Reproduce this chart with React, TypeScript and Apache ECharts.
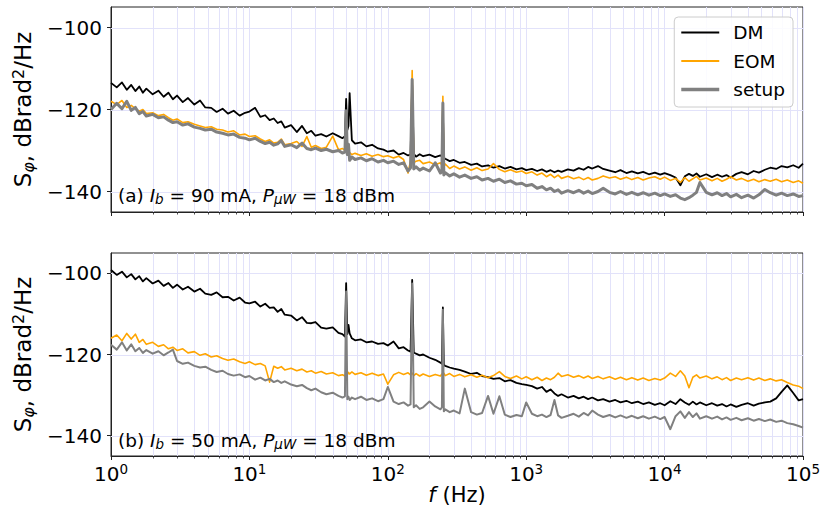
import React, { useEffect, useRef } from "react";
import * as echarts from "echarts";

// Frequencies (Hz) shared by all traces
const FREQ = [
  1, 1.1, 1.2, 1.3, 1.4, 1.5, 1.6, 1.7, 1.8, 2, 2.2, 2.4, 2.6, 2.8, 3, 3.3, 3.6, 4, 4.4, 4.8, 5.3, 5.8, 6.4, 7, 7.7, 8.5, 9.3,
  10, 11, 12, 13, 14, 15, 16, 17, 18, 20, 22, 24, 26, 28, 30, 33, 36, 40, 44, 47, 49, 50, 51, 52, 53, 55, 58, 64, 70, 77, 85, 93,
  100, 110, 120, 130, 140, 146, 150, 154, 160, 170, 180, 200, 220, 240, 246, 250, 254, 260, 280, 300, 330, 360, 400, 440, 480, 530, 580, 640, 700, 770, 850, 930,
  1000, 1100, 1200, 1300, 1400, 1500, 1600, 1700, 1800, 2000, 2200, 2400, 2600, 2800, 3000, 3300, 3600, 4000, 4400, 4800, 5300, 5800, 6400, 7000, 7700, 8500, 9300,
  10000, 11000, 12000, 13000, 14000, 15000, 16000, 17000, 18000, 20000, 22000, 24000, 26000, 28000, 30000, 33000, 36000, 40000, 44000, 48000, 53000, 58000, 64000, 70000, 77000, 85000, 93000,
  100000,
];

// Panel (a): Ib = 90 mA
const TOP_DM = [
  -113.5, -114.6, -113.4, -115.2, -114.0, -115.5, -114.4, -115.9, -114.9, -116.3, -115.4, -116.9, -115.9, -117.5, -116.6, -118.2, -117.2, -118.8, -117.8, -119.5, -119.6, -120.6, -119.8, -121.0, -120.3, -121.5, -120.8,
  -120.5, -119.6, -121.8, -121.4, -122.6, -122.2, -123.3, -122.9, -124.4, -123.8, -125.5, -124.0, -125.8, -125.2, -126.4, -126.0, -126.6, -125.8, -126.5, -127.0, -126.5, -117.4, -125.0, -124.0, -116.0, -127.5, -128.3, -128.0, -129.0, -128.6, -129.5, -129.8,
  -130.3, -130.0, -131.0, -130.6, -131.2, -131.0, -114.0, -130.8, -131.5, -130.9, -131.4, -131.0, -131.6, -131.2, -131.5, -120.0, -131.8, -132.0, -132.6, -132.3, -133.0, -132.8, -133.5, -133.2, -133.9, -133.6, -134.2, -133.8, -134.4, -134.0, -134.6, -134.3,
  -134.8, -134.5, -135.0, -134.6, -135.2, -134.8, -135.3, -134.9, -135.2, -134.6, -134.9, -134.3, -134.7, -134.0, -134.4, -133.8, -134.5, -134.9, -135.3, -134.8, -135.5, -135.1, -135.6, -135.2, -135.8, -135.4, -135.9,
  -135.5, -136.0, -136.6, -138.5, -136.3, -135.7, -136.2, -135.6, -136.4, -135.8, -136.5, -135.9, -136.4, -136.0, -136.6, -135.7, -135.3, -135.8, -135.0, -135.4, -134.7, -134.2, -134.5, -133.8, -134.1, -133.6, -134.2,
  -133.2,
];
const TOP_EOM = [
  -118.0, -118.8, -117.8, -119.5, -119.0, -119.8, -120.4, -120.0, -121.0, -120.8, -121.5, -121.2, -122.0, -122.6, -122.3, -123.2, -123.0, -123.6, -124.0, -124.4, -124.2, -124.8, -125.0, -125.5, -125.2, -126.2, -126.0,
  -126.6, -126.4, -127.2, -127.8, -127.4, -128.2, -128.0, -127.2, -128.6, -128.3, -127.8, -129.0, -126.6, -129.2, -128.8, -129.5, -129.2, -126.5, -129.8, -129.5, -130.0, -126.5, -130.4, -130.8, -130.5, -131.0, -130.7, -131.2, -130.8, -131.4, -131.0, -131.5,
  -131.3, -131.8, -131.4, -132.2, -135.5, -132.5, -110.5, -133.0, -132.6, -132.4, -133.2, -132.8, -133.5, -133.0, -133.6, -116.8, -134.0, -133.3, -134.4, -133.8, -134.5, -134.0, -134.8, -134.2, -134.9, -134.5, -133.2, -134.6, -135.2, -134.7, -135.3, -135.0,
  -135.6, -135.2, -136.0, -135.5, -136.4, -135.8, -136.6, -136.0, -136.8, -136.3, -136.9, -136.5, -137.1, -136.6, -137.2, -136.8, -136.2, -136.7, -136.4, -137.0, -136.5, -137.1, -136.6, -137.2, -136.7, -136.4, -137.0,
  -136.5, -137.3, -136.8, -137.8, -136.6, -137.5, -136.9, -136.3, -137.2, -136.7, -137.4, -136.8, -137.5, -137.0, -136.4, -137.2, -136.8, -137.5, -137.0, -137.6, -137.1, -137.5, -137.0, -137.6, -137.2, -137.8, -137.4,
  -138.0,
];
const TOP_SETUP = [
  -120.0, -118.5, -119.8, -118.0, -120.2, -119.5, -121.0, -120.5, -121.6, -121.2, -122.0, -121.8, -122.6, -123.2, -123.0, -123.8, -123.5, -124.3, -124.6, -125.0, -124.8, -125.5, -125.8, -126.2, -126.0, -126.8, -127.0,
  -127.4, -127.0, -127.8, -128.3, -128.0, -128.7, -128.4, -127.6, -129.0, -128.6, -129.3, -128.2, -129.5, -129.8, -129.4, -130.0, -129.7, -130.3, -130.0, -130.6, -130.4, -120.3, -131.0, -128.5, -132.4, -131.6, -132.2, -131.8, -132.5, -132.0, -132.8, -132.4,
  -133.0, -132.6, -133.4, -133.0, -135.0, -134.2, -112.7, -134.5, -134.0, -134.8, -134.3, -135.0, -133.0, -135.5, -135.2, -118.4, -136.0, -135.4, -136.2, -135.7, -136.5, -136.0, -136.8, -136.4, -137.2, -136.8, -137.5, -137.0, -137.8, -137.4, -138.2, -138.0,
  -138.6, -138.3, -139.2, -138.8, -139.6, -139.2, -140.0, -139.6, -140.4, -139.8, -140.3, -139.7, -140.4, -139.9, -140.5, -140.0, -139.2, -140.2, -140.6, -140.0, -140.7, -140.2, -140.8, -140.3, -140.9, -140.4, -141.0,
  -140.6, -141.2, -140.8, -141.6, -142.0, -141.5, -140.9, -140.2, -137.8, -140.2, -140.8, -140.3, -141.0, -140.5, -141.3, -140.7, -141.5, -140.9, -141.6, -140.8, -139.5, -140.3, -140.9, -140.4, -141.0, -140.6, -141.2,
  -141.0,
];

// Panel (b): Ib = 50 mA
const BOTTOM_DM = [
  -99.2, -100.4, -99.6, -101.0, -100.2, -101.5, -100.7, -102.0, -101.2, -102.5, -101.8, -103.1, -102.4, -103.6, -102.8, -104.0, -103.3, -104.5, -103.8, -105.0, -105.3, -104.7, -105.9, -105.8, -106.7, -106.0, -107.2,
  -107.4, -107.0, -108.2, -107.5, -108.5, -108.4, -109.5, -108.8, -110.2, -110.4, -111.6, -110.8, -112.2, -112.3, -112.0, -113.4, -113.6, -113.3, -114.7, -115.0, -115.6, -102.4, -115.0, -112.7, -114.8, -116.0, -116.5, -116.3, -117.0, -116.8, -117.4, -117.2,
  -117.8, -116.8, -118.5, -118.2, -119.0, -119.3, -101.6, -119.5, -119.8, -120.2, -120.0, -120.8, -121.3, -122.0, -122.3, -108.4, -122.6, -122.8, -123.2, -123.5, -123.8, -124.2, -124.8, -124.5, -125.3, -125.6, -126.0, -125.8, -126.6, -126.3, -127.0, -127.3,
  -127.5, -127.8, -128.4, -128.0, -129.2, -128.6, -129.6, -130.2, -129.8, -130.6, -130.2, -130.8, -130.4, -131.0, -130.6, -131.3, -131.0, -131.6, -131.2, -131.8, -131.4, -132.0, -131.6, -132.2, -131.8, -132.4, -132.0,
  -132.5, -131.5, -132.2, -131.0, -131.8, -132.4, -131.6, -132.3, -131.8, -132.5, -132.0, -132.6, -132.2, -132.8, -132.3, -132.9, -132.4, -132.0, -132.6, -132.1, -131.8, -131.6, -130.8, -129.2, -127.6, -129.5, -131.3,
  -131.0,
];
const BOTTOM_EOM = [
  -116.0, -115.2, -116.6, -114.8, -116.2, -115.0, -117.0, -116.3, -117.5, -117.0, -118.0, -117.6, -118.6, -118.2, -119.0, -118.6, -119.6, -119.3, -120.2, -119.8, -120.6, -120.3, -121.0, -121.4, -121.1, -121.8, -122.2,
  -121.8, -122.5, -122.2, -122.8, -126.8, -122.9, -123.4, -123.0, -123.8, -123.4, -124.0, -123.6, -124.3, -124.0, -124.6, -124.2, -124.8, -124.5, -125.2, -125.0, -125.3, -124.6, -125.0, -124.4, -124.8, -124.3, -124.9, -124.5, -125.1, -124.6, -125.2, -124.8,
  -127.3, -125.0, -124.4, -124.9, -124.5, -125.0, -124.6, -125.2, -124.7, -125.3, -124.8, -125.4, -124.9, -125.3, -124.8, -125.0, -124.6, -125.2, -124.7, -125.4, -124.9, -125.5, -125.0, -125.6, -125.1, -125.7, -125.2, -124.2, -125.4, -125.9, -125.3, -126.0,
  -125.5, -126.2, -125.6, -126.4, -125.8, -126.2, -125.6, -124.6, -125.4, -125.0, -125.6, -125.2, -125.8, -125.3, -125.9, -125.4, -126.0, -125.5, -126.1, -125.6, -126.2, -125.7, -126.3, -125.8, -126.4, -125.9, -126.3,
  -125.8, -124.6, -125.4, -124.0, -125.3, -128.2, -125.6, -125.0, -125.8, -125.3, -126.0, -125.5, -126.2, -125.7, -126.4, -125.8, -126.2, -125.7, -126.3, -125.8, -126.4, -126.0, -126.5, -126.2, -126.9, -127.5, -127.8,
  -128.4,
];
const BOTTOM_SETUP = [
  -117.6, -118.8, -117.0, -119.0, -117.5, -119.2, -118.4, -119.6, -118.9, -119.8, -119.2, -120.2, -119.5, -118.8, -121.6, -122.3, -122.0, -122.8, -123.2, -123.0, -123.8, -124.3, -124.0, -124.8, -125.2, -124.9, -125.6,
  -125.3, -126.2, -125.7, -126.4, -126.0, -126.8, -126.4, -127.0, -126.6, -127.4, -127.8, -127.5, -128.3, -128.8, -128.4, -129.3, -129.8, -129.4, -130.2, -130.6, -130.3, -104.5, -131.0, -130.4, -131.2, -130.6, -131.0, -130.4, -131.2, -130.8, -131.5, -131.0,
  -128.0, -131.6, -132.2, -131.8, -132.6, -132.3, -102.5, -133.0, -132.5, -133.4, -133.0, -131.6, -132.8, -133.5, -133.0, -109.0, -134.0, -133.5, -134.2, -133.8, -134.5, -128.4, -134.2, -134.8, -134.4, -130.2, -134.6, -130.3, -134.8, -135.4, -134.9, -135.2,
  -131.8, -134.6, -135.2, -134.8, -135.4, -134.9, -131.2, -135.0, -135.6, -135.1, -134.6, -135.3, -134.4, -135.0, -133.8, -134.8, -135.4, -134.9, -135.5, -135.0, -135.6, -135.1, -135.7, -135.2, -135.8, -135.3, -135.9,
  -135.4, -138.4, -135.2, -134.0, -135.6, -134.2, -135.4, -134.5, -135.8, -135.2, -135.8, -135.3, -136.0, -135.5, -136.1, -135.6, -136.2, -135.7, -136.3, -135.9, -136.4, -136.0, -136.6, -136.3, -136.9, -137.2, -137.6,
  -138.0,
];

const SERIES_NAMES = ["DM", "EOM", "setup"];
const PANEL_LABELS = ["(a) ", "(b) "];
const PANEL_CURRENTS = ["90 mA", "50 mA"];
const PANEL_POWER = "18 dBm";
const X_DECADES = [1, 10, 100, 1000, 10000, 100000];
const MINOR_STEPS = [2, 3, 4, 5, 6, 7, 8, 9];
const Y_TICKS = [-140, -120, -100];
const Y_MIN = -145;
const Y_MAX = -95;

const FONT = "DejaVu Sans";
const GRID_COLOR = "#e2e2fa";
const AXIS_COLOR = "#222222";
const COLORS = ["#000000", "#ffa500", "#808080"];
const WIDTHS = [
  [1.8, 1.6, 3],
  [1.8, 1.6, 2],
];
const LEGEND_WIDTHS = [2, 2, 3.5];

function legendIcon(w: number): string {
  const y0 = 7 - w / 2;
  return `path://M0,0h0.01v0.01h-0.01zM0,14h0.01v0.01h-0.01zM0,${y0}h38v${w}h-38z`;
}

function buildOption(): any {
  const minor: number[] = [];
  X_DECADES.slice(0, -1).forEach((d) => MINOR_STEPS.forEach((m) => minor.push(d * m)));
  const panels = [
    [TOP_DM, TOP_EOM, TOP_SETUP],
    [BOTTOM_DM, BOTTOM_EOM, BOTTOM_SETUP],
  ];
  const grids = [
    { left: 111, top: 7, width: 692, height: 205 },
    { left: 111, top: 253, width: 692, height: 203 },
  ];

  const xAxes = grids.map((_, i) => ({
    type: "log",
    logBase: 10,
    gridIndex: i,
    min: X_DECADES[0],
    max: X_DECADES[X_DECADES.length - 1],
    splitNumber: 5,
    axisLine: { show: true, lineStyle: { color: AXIS_COLOR, width: 1 } },
    axisTick: { show: true, length: 4, inside: false, lineStyle: { color: AXIS_COLOR, width: 1 } },
    splitLine: { show: true, lineStyle: { color: GRID_COLOR, width: 1 } },
    axisLabel: {
      show: i === 1,
      margin: 6,
      formatter: (v: number) => `{b|10}{p|${Math.round(Math.log10(v))}}`,
      rich: {
        b: { fontSize: 20, fontFamily: FONT, color: "#000", lineHeight: 24 },
        p: { fontSize: 13.5, fontFamily: FONT, color: "#000", lineHeight: 13, verticalAlign: "top" },
      },
    },
    name: i === 1 ? "{i|f} (Hz)" : "",
    nameLocation: "middle",
    nameGap: 28,
    nameTextStyle: {
      fontSize: 21,
      fontFamily: FONT,
      color: "#000",
      rich: { i: { fontSize: 21, fontFamily: FONT, fontStyle: "italic", color: "#000" } },
    },
  }));

  const yAxes = grids.map((_, i) => ({
    type: "value",
    gridIndex: i,
    min: Y_MIN,
    max: Y_MAX,
    axisLine: { show: true, lineStyle: { color: AXIS_COLOR, width: 1 } },
    axisTick: { show: true, customValues: Y_TICKS, length: 4, lineStyle: { color: AXIS_COLOR, width: 1 } },
    splitLine: { show: false },
    axisLabel: {
      customValues: Y_TICKS,
      margin: 9,
      fontSize: 20,
      fontFamily: FONT,
      color: "#000",
      formatter: (v: number) => (v < 0 ? "\u2212" + Math.abs(v) : String(v)),
    },
    name: "S{sub|φ}, dBrad{sup|2}/Hz",
    nameLocation: "middle",
    nameGap: 70,
    nameTextStyle: {
      fontSize: 23,
      fontFamily: FONT,
      color: "#000",
      lineHeight: 26,
      rich: {
        sub: { fontSize: 16, fontFamily: FONT, fontStyle: "italic", color: "#000", lineHeight: 16, verticalAlign: "bottom" },
        sup: { fontSize: 16, fontFamily: FONT, color: "#000", lineHeight: 16, verticalAlign: "top" },
      },
    },
  }));

  const series: any[] = [];
  grids.forEach((_, i) => {
    series.push({
      type: "custom",
      xAxisIndex: i,
      yAxisIndex: i,
      silent: true,
      clip: false,
      z: 1,
      encode: { x: 0, y: 1 },
      data: minor.map((f) => [f, Y_MIN]),
      renderItem: (params: any, api: any) => {
        const cs = params.coordSys;
        const x = Math.round(api.coord([api.value(0), api.value(1)])[0]) + 0.5;
        const yb = cs.y + cs.height;
        return {
          type: "group",
          children: [
            { type: "line", shape: { x1: x, y1: cs.y, x2: x, y2: yb }, style: { stroke: GRID_COLOR, lineWidth: 1 } },
            { type: "line", shape: { x1: x, y1: yb, x2: x, y2: yb + 2.5 }, style: { stroke: AXIS_COLOR, lineWidth: 0.8 } },
          ],
        };
      },
    });
    series.push({
      type: "custom",
      xAxisIndex: i,
      yAxisIndex: i,
      silent: true,
      clip: false,
      z: 1,
      encode: { x: 0, y: 1 },
      data: Y_TICKS.map((v) => [X_DECADES[0], v]),
      renderItem: (params: any, api: any) => {
        const cs = params.coordSys;
        const y = Math.round(api.coord([api.value(0), api.value(1)])[1]) + 0.5;
        return {
          type: "line",
          shape: { x1: cs.x, y1: y, x2: cs.x + cs.width, y2: y },
          style: { stroke: GRID_COLOR, lineWidth: 1 },
        };
      },
    });
    panels[i].forEach((arr, k) => {
      series.push({
        type: "line",
        name: SERIES_NAMES[k],
        xAxisIndex: i,
        yAxisIndex: i,
        data: FREQ.map((f, j) => [f, arr[j]]),
        showSymbol: false,
        symbol: "none",
        z: 3 + k,
        lineStyle: { color: COLORS[k], width: WIDTHS[i][k], join: "round" },
        itemStyle: { color: COLORS[k] },
      });
    });
  });

  const annoRich = {
    i: { fontSize: 18.5, fontFamily: FONT, fontStyle: "italic", fill: "#000", lineHeight: 22 },
    s: { fontSize: 13.5, fontFamily: FONT, fontStyle: "italic", fill: "#000", lineHeight: 14, verticalAlign: "bottom" },
    t: { fontSize: 18.5, fontFamily: FONT, fill: "#000", lineHeight: 22 },
  };
  const annoY = [195, 440];
  const graphic = PANEL_LABELS.map((lab, i) => ({
    type: "text",
    x: 118,
    y: annoY[i],
    z: 10,
    style: {
      text: `{t|${lab}}{i|I}{s|b}{t| = ${PANEL_CURRENTS[i]}, }{i|P}{s|μW}{t| = ${PANEL_POWER}}`,
      rich: annoRich,
      fontSize: 18.5,
      fontFamily: FONT,
      fill: "#000",
      verticalAlign: "middle",
      align: "left",
    },
  }));

  return {
    animation: false,
    backgroundColor: "#ffffff",
    textStyle: { fontFamily: FONT },
    grid: grids.map((g) => ({ ...g, show: true, borderColor: AXIS_COLOR, borderWidth: 1, backgroundColor: "transparent" })),
    xAxis: xAxes,
    yAxis: yAxes,
    legend: {
      data: SERIES_NAMES.map((n, k) => ({ name: n, icon: legendIcon(LEGEND_WIDTHS[k]) })),
      orient: "vertical",
      right: 37,
      top: 17,
      itemWidth: 38,
      itemHeight: 14,
      itemGap: 9.5,
      padding: [6, 8, 8, 7],
      backgroundColor: "rgba(255,255,255,0.85)",
      borderColor: "#cccccc",
      borderWidth: 1,
      borderRadius: 4,
      itemStyle: { borderWidth: 0 },
      textStyle: { fontFamily: FONT, fontSize: 18.5, color: "#000", padding: [0, 0, 0, 9], lineHeight: 18 },
    },
    graphic,
    series,
  };
}

export default function App() {
  const ref = useRef<HTMLDivElement>(null);
  useEffect(() => {
    document.body.style.margin = "0";
    const chart = echarts.init(ref.current as HTMLDivElement, null, { renderer: "svg" });
    chart.setOption(buildOption());
    return () => chart.dispose();
  }, []);
  return <div ref={ref} style={{ width: 830, height: 522 }} />;
}
